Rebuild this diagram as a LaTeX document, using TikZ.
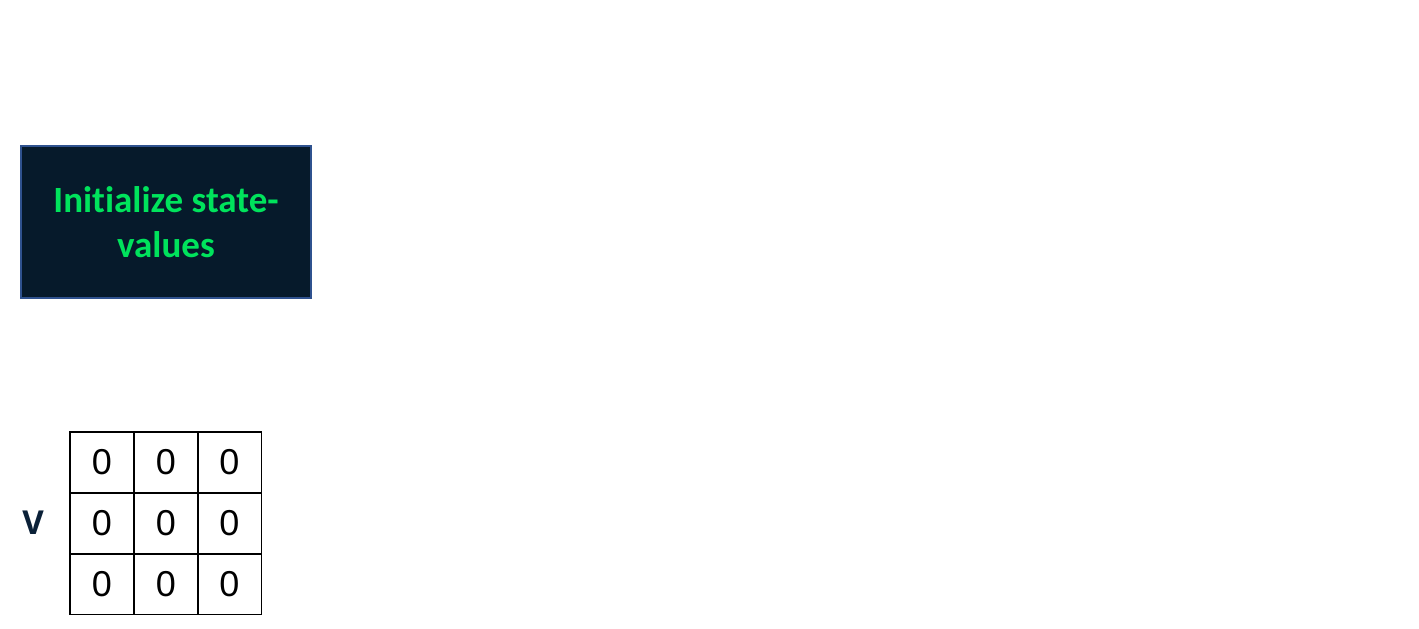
\documentclass[tikz,border=0pt]{standalone}
\usepackage{fontspec}
\setmainfont{Liberation Sans}
\newfontfamily\calib[Ligatures={NoCommon}]{Carlito}
\newfontfamily\opensans{Open Sans}
\definecolor{boxfill}{HTML}{061A2B}
\definecolor{boxedge}{HTML}{2F528F}
\definecolor{txtgreen}{HTML}{00E35C}
\definecolor{vnavy}{HTML}{0B2138}
\begin{document}
\begin{tikzpicture}[x=1pt,y=-1pt,
  titlebox/.style={draw=boxedge,fill=boxfill,line width=1.5pt,minimum width=290pt,minimum height=152pt,inner sep=0pt,align=center,text=txtgreen,font=\calib\bfseries\fontsize{37}{45}\selectfont},
  cell/.style={draw=black,line width=1.2pt,minimum width=64pt,minimum height=61pt,inner sep=0pt,font=\fontsize{36}{40}\selectfont},
  vlabel/.style={text=vnavy,inner sep=0pt,font=\opensans\bfseries\fontsize{33}{36}\selectfont}]
\useasboundingbox (0,0) rectangle (1419,629);
\node[titlebox] (init) at (166,222) {Initialize state-\\values};
\foreach \r/\py in {1/462.5,2/523.5,3/584}{
  \foreach \c/\px in {1/102,2/166,3/229.5}{
    \node[cell] (c\r\c) at (\px,\py) {0};
  }
}
\node[vlabel] (V) at (33,523) {V};
\end{tikzpicture}
\end{document}
